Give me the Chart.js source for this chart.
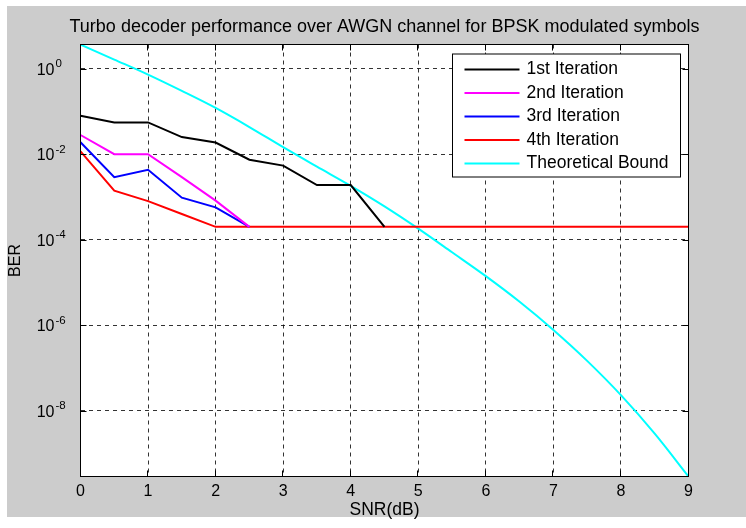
<!DOCTYPE html>
<html><head><meta charset="utf-8">
<script src="https://cdn.jsdelivr.net/npm/chart.js@4"></script>
<style>html,body{margin:0;padding:0;background:#fff;}canvas{display:block;}</style>
</head><body>
<canvas id="c" width="746" height="528"></canvas>
<script>
// ---- data ----
const snr = [0,0.5,1,1.5,2,2.5,3,3.5,4,4.5,5,5.5,6,6.5,7,7.5,8,8.5,9];
const iter1 = [0.079,0.055,0.055,0.025,0.0187,0.0074,0.0054,0.0019,0.0019,0.0002];
const iter2 = [0.028,0.010,0.010,0.0029,0.00082,0.0002];
const iter3 = [0.019,0.0029,0.0043,0.00096,0.00057,0.0002];
const iter4 = [0.0116,0.0014,0.0008,0.0004,0.0002,0.0002,0.0002,0.0002,0.0002,0.0002,0.0002,0.0002,0.0002,0.0002,0.0002,0.0002,0.0002,0.0002,0.0002];
const theory = [3.63,1.62,0.72,0.30,0.12,0.043,0.0145,0.0051,0.00182,0.000603,0.000182,5.1e-5,1.41e-5,3.55e-6,7.8e-7,1.48e-7,2.34e-8,2.95e-9,2.95e-10];
const seriesLabels = ['1st Iteration','2nd Iteration','3rd Iteration','4th Iteration','Theoretical Bound'];
const seriesColors = ['#000000','#ff00ff','#0000ff','#ff0000','#00ffff'];
const xTicks = [0,1,2,3,4,5,6,7,8,9];
const yTickExponents = [0,-2,-4,-6,-8];
const yMin = 2.95e-10, yMax = 3.64;
const titleText = 'Turbo decoder performance over AWGN channel for BPSK modulated symbols';
const xTitle = 'SNR(dB)';
const yTitle = 'BER';

const FONT = '"Liberation Sans", Arial, sans-serif';
const toPts = arr => arr.map((v,i)=>({x:snr[i], y:v}));
const series = [iter1, iter2, iter3, iter4, theory];

const datasets = series.map((arr,i)=>({
  label: seriesLabels[i],
  data: toPts(arr),
  borderColor: seriesColors[i],
  backgroundColor: seriesColors[i],
  borderWidth: 2,
  pointRadius: 0,
  fill: false,
  cubicInterpolationMode: i === 4 ? 'monotone' : 'default',
  tension: 0
}));

const bgPlugin = {
  id: 'bg',
  beforeDraw(chart) {
    const {ctx, chartArea: a} = chart;
    ctx.save();
    ctx.fillStyle = '#ffffff';
    ctx.fillRect(0,0,chart.width,chart.height);
    ctx.fillStyle = '#cccccc';
    ctx.fillRect(7,6,chart.width-7,511);
    ctx.fillStyle = '#ffffff';
    ctx.fillRect(a.left, a.top, a.right-a.left, a.bottom-a.top);
    // title centred over the axes
    ctx.fillStyle = '#000';
    ctx.font = '18px ' + FONT;
    ctx.textAlign = 'center';
    ctx.textBaseline = 'middle';
    ctx.fillText(titleText, (a.left + a.right) / 2, 27);
    ctx.restore();
  }
};

const axesPlugin = {
  id: 'axesDeco',
  afterDraw(chart) {
    const {ctx, chartArea: a, scales} = chart;
    const xs = scales.x, ys = scales.y;
    ctx.save();
    ctx.strokeStyle = '#000';
    ctx.lineWidth = 1;
    ctx.beginPath();
    xTicks.forEach(v => {
      const px = Math.round(xs.getPixelForValue(v)) + 0.5 - 1;
      ctx.moveTo(px, a.bottom); ctx.lineTo(px, a.bottom-6);
      ctx.moveTo(px, a.top); ctx.lineTo(px, a.top+6);
    });
    yTickExponents.forEach(e => {
      const py = Math.round(ys.getPixelForValue(Math.pow(10,e))) + 0.5;
      ctx.moveTo(a.left, py); ctx.lineTo(a.left+6, py);
      ctx.moveTo(a.right, py); ctx.lineTo(a.right-6, py);
    });
    ctx.stroke();
    ctx.strokeRect(a.left, a.top, a.right-a.left, a.bottom-a.top);
    // y tick labels: 10^e
    ctx.fillStyle = '#000';
    yTickExponents.forEach(e => {
      const py = ys.getPixelForValue(Math.pow(10,e));
      ctx.font = '16px ' + FONT;
      ctx.textAlign = 'right';
      ctx.textBaseline = 'alphabetic';
      ctx.fillText('10', 54.5, py + 6);
      ctx.font = '11.5px ' + FONT;
      ctx.textAlign = 'left';
      ctx.fillText(String(e), 55.5, py - 1.5);
    });
    // legend
    const w = 228, h = 123;
    const x0 = a.right - 8 - w, y0 = a.top + 9.5;
    ctx.fillStyle = '#fff';
    ctx.fillRect(x0, y0, w, h);
    ctx.strokeStyle = '#000';
    ctx.lineWidth = 1;
    ctx.strokeRect(x0, y0, w, h);
    chart.data.datasets.forEach((ds, i) => {
      const ry = y0 + 15.5 + i*23.5;
      ctx.strokeStyle = ds.borderColor;
      ctx.lineWidth = 2;
      ctx.beginPath();
      ctx.moveTo(x0+12, ry); ctx.lineTo(x0+67, ry);
      ctx.stroke();
      ctx.fillStyle = '#000';
      ctx.font = '17.5px ' + FONT;
      ctx.textAlign = 'left';
      ctx.textBaseline = 'middle';
      ctx.fillText(ds.label, x0+74, ry);
    });
    ctx.restore();
  }
};

new Chart(document.getElementById('c'), {
  type: 'line',
  data: { datasets },
  plugins: [bgPlugin, axesPlugin],
  options: {
    responsive: false,
    animation: false,
    devicePixelRatio: 1,
    layout: { padding: { left: 0, right: 57.5, top: 44.5, bottom: 0 } },
    plugins: {
      legend: { display: false },
      tooltip: { enabled: false },
      title: { display: false }
    },
    scales: {
      x: {
        type: 'linear',
        min: 0, max: 9,
        afterBuildTicks: s => { s.ticks = xTicks.map(v => ({value: v})); },
        afterFit: s => { s.height = 51.5; },
        ticks: { color: '#000', font: { family: FONT, size: 16 }, padding: 5, maxRotation: 0, autoSkip: false },
        grid: { color: 'rgba(0,0,0,0.8)', lineWidth: 1, drawTicks: false },
        border: { display: false, dash: [4,4] },
        title: { display: true, text: xTitle, color: '#000', font: { family: FONT, size: 17.5 }, padding: { top: 0, bottom: 7 } }
      },
      y: {
        type: 'logarithmic',
        min: yMin, max: yMax,
        afterBuildTicks: s => { s.ticks = yTickExponents.map(e => ({value: Math.pow(10,e)})); },
        afterFit: s => { s.width = 80.5; },
        ticks: { callback: () => '', font: { family: FONT, size: 16 } },
        grid: { color: 'rgba(0,0,0,0.8)', lineWidth: 1, drawTicks: false },
        border: { display: false, dash: [4,4] },
        title: { display: true, text: yTitle, color: '#000', font: { family: FONT, size: 16 }, padding: { top: 6, bottom: 0 } }
      }
    }
  }
});
</script>
</body></html>
